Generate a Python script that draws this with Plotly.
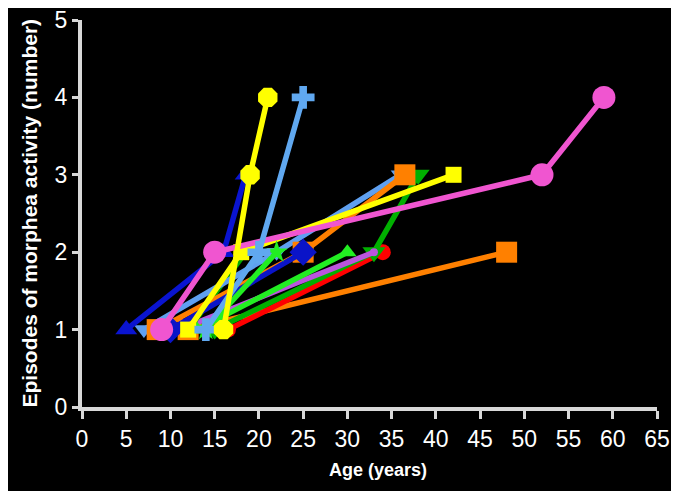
import plotly.graph_objects as go

# Each series: age (years) and cumulative episodes of morphea activity
s_blue_tri_x = [5, 16, 18.5];      s_blue_tri_y = [1, 2, 3]
s_lblue_tdn_x = [7, 22, 36];       s_lblue_tdn_y = [1, 2, 3]
s_orange_sq1_x = [8.5, 25, 36.5];  s_orange_sq1_y = [1, 2, 3]
s_pink_x = [9, 15, 52, 59];        s_pink_y = [1, 2, 3, 4]
s_purple_x = [11, 33];             s_purple_y = [1, 2]
s_dblue_dia_x = [10, 25];          s_dblue_dia_y = [1, 2]
s_orange_sq2_x = [12, 48];         s_orange_sq2_y = [1, 2]
s_yellow_sq_x = [12, 18, 42];      s_yellow_sq_y = [1, 2, 3]
s_dgreen_x = [12, 18.5];           s_dgreen_y = [1, 2]
s_green_tri_x = [13, 30];          s_green_tri_y = [1, 2]
s_lblue_cross_x = [14, 20, 25];    s_lblue_cross_y = [1, 2, 4]
s_green_star_x = [14, 22];         s_green_star_y = [1, 2]
s_dgreen_tdn_x = [15, 33, 38];     s_dgreen_tdn_y = [1, 2, 3]
s_red_x = [16.5, 34];              s_red_y = [1, 2]
s_yellow_fl_x = [16, 19, 21];      s_yellow_fl_y = [1, 3, 4]

x_ticks = list(range(0, 70, 5))
y_ticks = [0, 1, 2, 3, 4, 5]

x_title = "Age (years)"
y_title = "Episodes of morphea activity (number)"

series = [
    (s_orange_sq2_x, s_orange_sq2_y, "#FF8000", "square", 21),
    (s_red_x, s_red_y, "#FF0000", "circle", 16),
    (s_dgreen_tdn_x, s_dgreen_tdn_y, "#00B000", "triangle-down", 20),
    (s_purple_x, s_purple_y, "#BB55DD", "circle", 8),
    (s_green_tri_x, s_green_tri_y, "#22EE22", "triangle-up", 16),
    (s_dgreen_x, s_dgreen_y, "#00AA00", "circle", 8),
    (s_lblue_tdn_x, s_lblue_tdn_y, "#5FA0F0", "triangle-down", 17),
    (s_orange_sq1_x, s_orange_sq1_y, "#FF8000", "square", 21),
    (s_dblue_dia_x, s_dblue_dia_y, "#0A14C8", "diamond", 21),
    (s_yellow_sq_x, s_yellow_sq_y, "#FFFF00", "square", 16),
    (s_green_star_x, s_green_star_y, "#22EE22", "star", 17),
    (s_blue_tri_x, s_blue_tri_y, "#0A14D0", "triangle-up", 19),
    (s_pink_x, s_pink_y, "#F055D0", "circle", 23),
    (s_lblue_cross_x, s_lblue_cross_y, "#60A8F0", "cross", 19),
    (s_yellow_fl_x, s_yellow_fl_y, "#FFFF00", "octagon", 21),
]

fig = go.Figure()
for xs, ys, col, sym, sz in series:
    fig.add_trace(go.Scatter(
        x=xs, y=ys, mode="lines+markers",
        line=dict(color=col, width=5.5),
        marker=dict(color=col, symbol=sym, size=sz, line=dict(width=0)),
        cliponaxis=False, showlegend=False,
    ))

axis_col = "#D8D8D8"
# page body has an 8px default margin, so the figure is offset by 8px
fig.update_layout(
    width=671, height=483,
    paper_bgcolor="black", plot_bgcolor="black",
    margin=dict(l=74, r=22, t=12, b=84),
    font=dict(family="Liberation Sans, Arial, sans-serif", color="white"),
    xaxis=dict(
        range=[0, 65], tickvals=x_ticks, ticktext=[str(v) for v in x_ticks],
        showgrid=False, zeroline=False, showline=True, automargin=False,
        linecolor=axis_col, linewidth=4, ticklabeloverflow="allow",
        ticks="outside", ticklen=8, tickwidth=3, tickcolor=axis_col,
        tickfont=dict(size=23, color="white"),
    ),
    yaxis=dict(
        range=[0, 5], tickvals=y_ticks, ticktext=[str(v) for v in y_ticks],
        showgrid=False, zeroline=False, showline=True, automargin=False,
        linecolor=axis_col, linewidth=4, ticklabeloverflow="allow",
        ticks="outside", ticklen=6, tickwidth=3, tickcolor=axis_col,
        tickfont=dict(size=23, color="white"),
    ),
    annotations=[
        dict(text="<b>" + x_title + "</b>", xref="paper", yref="paper",
             x=0.5, y=0, xanchor="center", yanchor="top", yshift=-51, xshift=8,
             showarrow=False, font=dict(size=18, color="white")),
        dict(text="<b>" + y_title + "</b>", xref="paper", yref="paper",
             x=0, y=0.5, xanchor="center", yanchor="middle", xshift=-53,
             textangle=-90, showarrow=False, font=dict(size=21, color="white")),
    ],
)

fig.write_html("out.html")
